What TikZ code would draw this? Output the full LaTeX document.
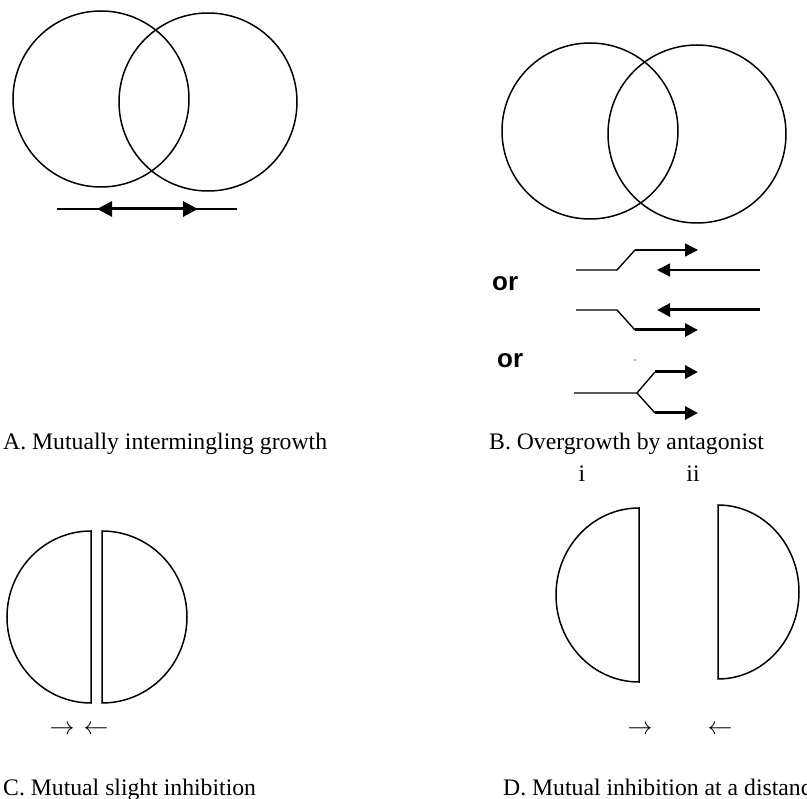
\documentclass[tikz,border=0pt]{standalone}
\usepackage{fontspec}
\setmainfont{Liberation Serif}
\newfontfamily\orfont{Liberation Sans}
\usetikzlibrary{arrows.meta}

\tikzset{
  colony/.style={black,line width=1.5pt},
  thinline/.style={black,line width=1.4pt},
  thickline/.style={black,line width=3pt},
  bighead/.style={-{Triangle[length=13pt,width=13pt]}},
  caption/.style={anchor=base west,inner sep=0pt,font=\fontsize{23.7}{28}\selectfont},
  orlabel/.style={anchor=base west,inner sep=0pt,font=\orfont\bfseries\fontsize{26}{30}\selectfont},
  textarrow/.style={inner sep=0pt,font=\fontsize{28}{30}\selectfont}
}

\begin{document}
\begin{tikzpicture}[x=1pt,y=1pt]
\useasboundingbox (0,0) rectangle (807,-799);
% ---- (A) mutually intermingling growth
\draw[colony] (101,-99) circle (88);
\draw[colony] (208,-102) circle (89);
\coordinate (aLeft) at (57,-209);
\coordinate (aRight) at (237,-209);
\coordinate (aTipL) at (97,-209);
\coordinate (aTipR) at (198,-209);
\draw[thinline] (aLeft) -- (aRight);
\draw[thickline,{Triangle[length=15pt,width=15pt]}-{Triangle[length=15pt,width=15pt]}] (aTipL) -- (aTipR);
\node[caption] (capA) at (3,-450) {A. Mutually intermingling growth};
% ---- (B) overgrowth by antagonist
\draw[colony] (590,-131) circle (88);
\draw[colony] (697,-134) circle (89);
% first way
\coordinate (b1Start) at (576,-270);
\coordinate (b1Bend) at (617,-270);
\coordinate (b1Up) at (635,-250);
\coordinate (b1Tip) at (698,-250);
\coordinate (b1Back) at (760,-270);
\coordinate (b1BackTip) at (657,-270);
\draw[thinline] (b1Start) -- (b1Bend) -- (b1Up);
\draw[thinline,bighead] (b1Up) -- (b1Tip);
\draw[thinline,bighead] (b1Back) -- (b1BackTip);
\node[orlabel] (or1) at (492,-291) {or};
% second way
\coordinate (b2Start) at (576,-310);
\coordinate (b2Bend) at (617,-310);
\coordinate (b2Down) at (635,-330);
\coordinate (b2Tip) at (698,-330);
\coordinate (b2Back) at (760,-310);
\coordinate (b2BackTip) at (657,-310);
\draw[thinline] (b2Start) -- (b2Bend) -- (b2Down);
\draw[thickline,bighead] (b2Down) -- (b2Tip);
\draw[thickline,bighead] (b2Back) -- (b2BackTip);
\node[orlabel] (or2) at (497,-368) {or};
\fill[black!70] (635,-360) circle (0.8);
% third way
\coordinate (b3Start) at (574,-393);
\coordinate (b3Fork) at (637,-393);
\coordinate (b3Up) at (655,-372);
\coordinate (b3Down) at (655,-413);
\coordinate (b3TipUp) at (698,-372);
\coordinate (b3TipDown) at (698,-413);
\draw[thinline] (b3Start) -- (b3Fork) -- (b3Up);
\draw[thinline] (b3Fork) -- (b3Down);
\draw[thickline,bighead] (b3Up) -- (b3TipUp);
\draw[thickline,bighead] (b3Down) -- (b3TipDown);
\node[caption] (capB) at (489,-450) {B. Overgrowth by antagonist};
\node[caption,anchor=base] (subI) at (582,-482) {i};
\node[caption,anchor=base] (subII) at (693,-482) {ii};
% ---- (C) mutual slight inhibition
\draw[colony] (91,-531) arc[start angle=90,end angle=270,x radius=84,y radius=86] -- cycle;
\draw[colony] (102,-531) arc[start angle=90,end angle=-90,x radius=85,y radius=86] -- cycle;
\node[textarrow] (cArrowR) at (62,-730) {$\rightarrow$};
\node[textarrow] (cArrowL) at (96,-730) {$\leftarrow$};
\node[caption] (capC) at (3,-795) {C. Mutual slight inhibition};
% ---- (D) mutual inhibition at a distance
\draw[colony] (639,-508) arc[start angle=90,end angle=270,x radius=83,y radius=87] -- cycle;
\draw[colony] (718,-505) arc[start angle=90,end angle=-90,x radius=81,y radius=87] -- cycle;
\node[textarrow] (dArrowR) at (640,-730) {$\rightarrow$};
\node[textarrow] (dArrowL) at (720,-730) {$\leftarrow$};
\node[caption] (capD) at (503,-795) {D. Mutual inhibition at a distance};
\end{tikzpicture}
\end{document}
